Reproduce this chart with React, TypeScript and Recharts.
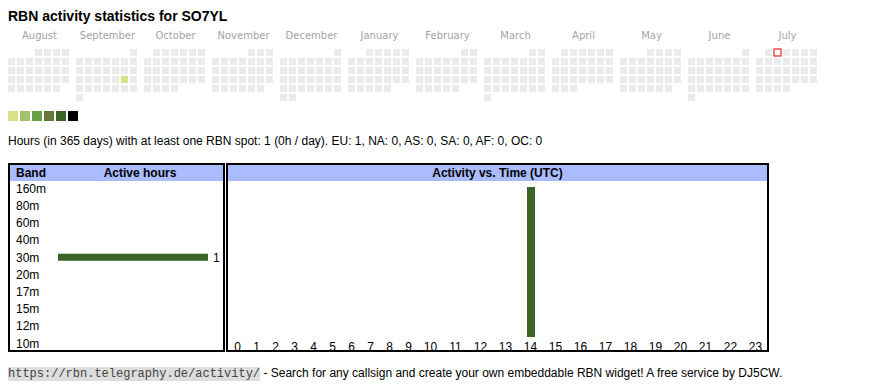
import React from 'react';
import { BarChart, Bar, XAxis, YAxis, ScatterChart, Scatter, LabelList } from 'recharts';

// calendar (last 12 months)
const monthNames = ['August', 'September', 'October', 'November', 'December', 'January', 'February', 'March', 'April', 'May', 'June', 'July'];
const monthStarts = ['2024-08', '2024-09', '2024-10', '2024-11', '2024-12', '2025-01', '2025-02', '2025-03', '2025-04', '2025-05', '2025-06', '2025-07'];
const activeDays = ['2024-09-21'];
const activeLevels = [1];
const todayDate = '2025-07-02';
const levelColors = ['#d9e18b', '#a0c46b', '#68a045', '#66783a', '#3b6427', '#000000'];

// band table
const bands = ['160m', '80m', '60m', '40m', '30m', '20m', '17m', '15m', '12m', '10m'];
const bandHours = [0, 0, 0, 0, 1, 0, 0, 0, 0, 0];

// activity vs. time
const hourLabels = ['0', '1', '2', '3', '4', '5', '6', '7', '8', '9', '10', '11', '12', '13', '14', '15', '16', '17', '18', '19', '20', '21', '22', '23'];
const hourActivity = [0, 0, 0, 0, 0, 0, 0, 0, 0, 0, 0, 0, 0, 0, 1, 0, 0, 0, 0, 0, 0, 0, 0, 0];

const SANS = '"Liberation Sans", Arial, sans-serif';
const FS = 12;
const EMPTY = '#ebebeb';
const BAR = '#3b6427';
const HEAD = '#aabbff';

const pad = (n: number) => String(n).padStart(2, '0');

function monthCells(start: string) {
  const [y, m] = start.split('-').map(Number);
  const offset = (new Date(Date.UTC(y, m - 1, 1)).getUTCDay() + 6) % 7;
  const nDays = new Date(Date.UTC(y, m, 0)).getUTCDate();
  const cells = [];
  for (let d = 1; d <= nDays; d++) {
    const key = `${y}-${pad(m)}-${pad(d)}`;
    const idx = activeDays.indexOf(key);
    cells.push({
      date: key,
      dow: (offset + d - 1) % 7,
      week: Math.floor((offset + d - 1) / 7),
      level: idx >= 0 ? activeLevels[idx] : 0,
      today: key === todayDate,
    });
  }
  return cells;
}

const DayCell = (props: any) => {
  const { cx, cy, payload } = props;
  if (payload.today) {
    return <rect x={cx - 3.5} y={cy - 3.5} width={7} height={7} fill="#fff" stroke="#e00000" strokeWidth={1} />;
  }
  const fill = payload.level > 0 ? levelColors[payload.level - 1] : EMPTY;
  return <rect x={cx - 3.5} y={cy - 3.5} width={7} height={7} fill={fill} />;
};

const BandTick = (props: any) => (
  <text x={6} y={props.y} dy="0.35em" textAnchor="start" fontSize={FS} fontFamily={SANS} fill="#000">
    {props.payload.value}
  </text>
);

const HourTick = (props: any) => (
  <text x={props.x} y={props.y} dy="0.35em" textAnchor="middle" fontSize={FS} fontFamily={SANS} fill="#000">
    {props.payload.value}
  </text>
);

const bandData = bands.map((band, i) => ({ band, hours: bandHours[i] }));
const hourData = hourLabels.map((hour, i) => ({ hour, spots: hourActivity[i] }));
const hourMax = Math.max(...hourActivity, 1);
const bandMax = Math.max(...bandHours, 1);

// single-digit hour columns are narrower than two-digit ones in the original table
const hourGroups = [
  { data: hourData.slice(0, 10), left: 228, width: 190 },
  { data: hourData.slice(10), left: 418, width: 350 },
];

export default function App() {
  return (
    <div style={{ position: 'absolute', left: 0, top: 0, width: 870, height: 390, background: '#fff', fontFamily: SANS }}>
      <div style={{ position: 'absolute', left: 8, top: 9, fontSize: 14, lineHeight: '14px', fontWeight: 'bold', whiteSpace: 'nowrap' }}>
        RBN activity statistics for SO7YL
      </div>

      {/* Calendar */}
      {monthNames.map((name, i) => (
        <React.Fragment key={name}>
          <div
            style={{
              position: 'absolute', left: 8 + 68 * i, top: 30.5, width: 63, textAlign: 'center',
              fontFamily: '"DejaVu Sans", Verdana, sans-serif', fontSize: 10, lineHeight: '10px', color: '#a4a4a4',
            }}
          >
            {name}
          </div>
          <div style={{ position: 'absolute', left: 7 + 68 * i, top: 48 }}>
            <ScatterChart width={63} height={54} margin={{ top: 0, right: 0, bottom: 0, left: 0 }}>
              <XAxis type="number" dataKey="dow" domain={[-0.5, 6.5]} hide />
              <YAxis type="number" dataKey="week" domain={[-0.5, 5.5]} reversed hide />
              <Scatter data={monthCells(monthStarts[i])} shape={DayCell} isAnimationActive={false} />
            </ScatterChart>
          </div>
        </React.Fragment>
      ))}

      {/* Legend */}
      {levelColors.map((c, i) => (
        <div key={c} style={{ position: 'absolute', left: 8 + 12 * i, top: 111, width: 10, height: 10, background: c }} />
      ))}

      <div style={{ position: 'absolute', left: 8, top: 135.3, fontSize: FS, lineHeight: '12px', whiteSpace: 'nowrap' }}>
        Hours (in 365 days) with at least one RBN spot: 1 (0h / day). EU: 1, NA: 0, AS: 0, SA: 0, AF: 0, OC: 0
      </div>

      {/* Band table */}
      <div style={{ position: 'absolute', left: 8, top: 163, width: 217, height: 189, border: '2px solid #000', boxSizing: 'border-box' }}>
        <div style={{ position: 'absolute', left: 0, top: 0, right: 0, height: 16, background: HEAD, fontSize: FS, fontWeight: 'bold', lineHeight: '16px' }}>
          <span style={{ position: 'absolute', left: 6 }}>Band</span>
          <span style={{ position: 'absolute', left: 70, width: 120, textAlign: 'center' }}>Active hours</span>
        </div>
      </div>
      <div style={{ position: 'absolute', left: 10, top: 180 }}>
        <BarChart layout="vertical" width={213} height={172} data={bandData} margin={{ top: 0, right: 15, bottom: 0, left: 0 }}>
          <XAxis type="number" domain={[0, bandMax]} hide />
          <YAxis type="category" dataKey="band" width={48} axisLine={false} tickLine={false} interval={0} tick={BandTick} />
          <Bar dataKey="hours" fill={BAR} barSize={7} isAnimationActive={false}>
            <LabelList
              dataKey="hours"
              position="right"
              offset={5}
              fontSize={FS}
              fontFamily={SANS}
              fill="#000"
              formatter={(v: any) => (v > 0 ? v : '')}
            />
          </Bar>
        </BarChart>
      </div>

      {/* Activity vs time */}
      <div style={{ position: 'absolute', left: 226, top: 163, width: 543, height: 189, border: '2px solid #000', boxSizing: 'border-box' }}>
        <div style={{ position: 'absolute', left: 0, top: 0, right: 0, height: 16, background: HEAD, fontSize: FS, fontWeight: 'bold', lineHeight: '16px', textAlign: 'center' }}>
          Activity vs. Time (UTC)
        </div>
      </div>
      {hourGroups.map((g, i) => (
        <div key={i} style={{ position: 'absolute', left: g.left, top: 181 }}>
          <BarChart width={g.width} height={178} data={g.data} margin={{ top: 6, right: 0, bottom: 8, left: 0 }}>
            <XAxis dataKey="hour" interval={0} axisLine={false} tickLine={false} tickSize={0} tickMargin={10} height={14} tick={HourTick} />
            <YAxis domain={[0, hourMax]} hide />
            <Bar dataKey="spots" fill={BAR} barSize={8} isAnimationActive={false} />
          </BarChart>
        </div>
      ))}

      {/* Footer */}
      <div style={{ position: 'absolute', left: 8, top: 366, fontSize: FS, lineHeight: '14px', whiteSpace: 'nowrap' }}>
        <span style={{ fontFamily: '"Liberation Mono", monospace', fontSize: 12, background: '#dddddd', color: '#444' }}>
          https://rbn.telegraphy.de/activity/
        </span>
        {' - Search for any callsign and create your own embeddable RBN widget! A free service by DJ5CW.'}
      </div>
    </div>
  );
}
